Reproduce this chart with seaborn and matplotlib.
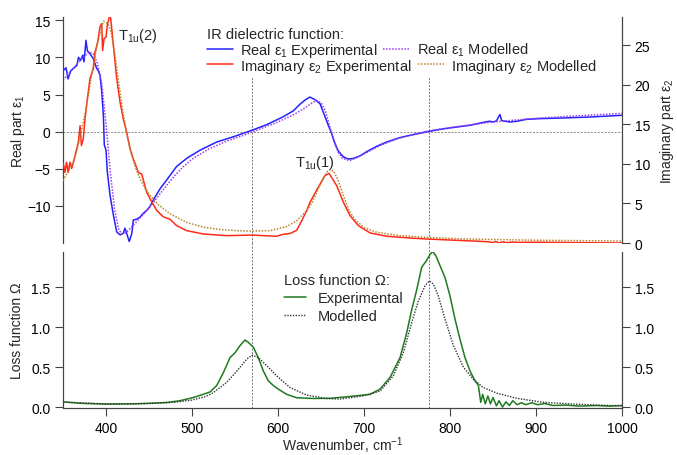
import numpy as np
import pandas as pd
import seaborn as sns
import matplotlib.pyplot as plt

# Real part eps1, experimental (wavenumber, value)
real_exp_wn = [350, 353.5, 355.8, 359, 362, 366, 368, 370.5, 373, 374.4, 376.7, 378.3, 381.4,
               385.3, 389.2, 391, 393, 395, 396.9, 398, 400, 401.5, 404.7, 408.5, 412.4, 416.3,
               420, 422, 424, 427, 430, 431.8, 435.7, 439.5, 443.4, 447.3, 451, 455, 462.8,
               470.6, 482, 493.8, 509.3, 528.7, 548, 570, 586.8, 606, 617.8, 625.6, 632, 637,
               643, 648.8, 652.7, 658.5, 662.4, 666.3, 670, 676, 681.7, 687.6, 695.3, 703,
               714.8, 726.4, 741.9, 757.3, 774, 788.4, 800, 823, 840.7, 846.5, 850, 854, 858,
               860, 864, 869.8, 878, 889, 904.7, 931.7, 962.8, 1000]
real_exp = [8.2, 8.6, 7.1, 8.2, 8.5, 8.9, 10.0, 9.6, 10.3, 9.4, 12.3, 10.9, 10.5,
            9.8, 8.5, 8.2, 7.6, 5.4, 2.2, -1.8, -2.5, -5.4, -8.6, -11.2, -13.5, -13.9,
            -13.7, -13.0, -13.7, -14.8, -13.7, -11.9, -11.8, -11.5, -11.0, -10.6, -10.1, -9.2, -7.7,
            -6.5, -4.7, -3.6, -2.5, -1.4, -0.7, 0.2, 0.94, 2.0, 2.8, 3.7, 4.3, 4.66,
            4.3, 3.76, 2.6, 0.85, -0.27, -1.6, -2.6, -3.4, -3.7, -3.6, -3.27, -2.7,
            -1.97, -1.39, -0.8, -0.4, 0.0, 0.3, 0.5, 0.85, 1.3, 1.4, 1.3, 1.45, 2.3,
            1.5, 1.4, 1.3, 1.4, 1.66, 1.75, 1.84, 1.97, 2.2]

# Real part eps1, modelled
real_mod_wn = [350, 360, 370, 380, 385, 390, 395, 400, 405, 410, 415, 420, 425, 430, 440, 450,
               460, 470, 480, 490, 500, 520, 540, 560, 580, 600, 620, 630, 640, 645, 650, 655,
               660, 665, 670, 675, 683, 690, 700, 720, 740, 760, 780, 800, 850, 900, 950, 1000]
real_mod = [6.9, 8.3, 9.6, 10.7, 10.5, 9.2, 6.5, 1.0, -5.5, -10.5, -13.3, -13.8, -13.4, -12.8,
            -11.6, -10.3, -8.8, -7.3, -5.9, -4.7, -3.7, -2.3, -1.3, -0.5, 0.4, 1.3, 2.4, 3.1,
            3.9, 4.2, 3.9, 2.8, 0.8, -1.3, -2.8, -3.6, -3.9, -3.6, -3.0, -1.8, -0.9, -0.3, 0.2,
            0.55, 1.3, 1.8, 2.15, 2.45]

# Imaginary part eps2, experimental
imag_exp_wn = [350.4, 352.3, 354, 356, 358, 360, 362.6, 365, 367.8, 369.8, 371.4, 373.6, 375.6,
               378.3, 381.4, 385.3, 387.2, 390, 393, 395, 396, 397.7, 400, 401.5, 404, 405.4,
               408.5, 412.4, 416.3, 420, 424, 427.9, 431.8, 437.6, 441.5, 447.3, 453.1, 459,
               466.7, 474.4, 482, 493.8, 513, 540, 570, 598.5, 606, 614, 621.7, 627.5, 633.4,
               637.2, 646.8, 654.6, 659.3, 668.2, 676, 683.7, 693.4, 707, 726.4, 753.5, 774,
               800, 834.9, 845, 850, 853, 857, 861, 866, 872, 880, 900, 950, 1000]
imag_exp = [10.0, 8.9, 10.2, 8.9, 10.2, 9.4, 10.4, 11.5, 12.7, 14.8, 12.3, 13.2, 15.7,
            18.2, 20.8, 22.0, 24.1, 25.2, 27.3, 27.7, 24.3, 25.8, 26.0, 27.5, 28.6, 28.4,
            25.0, 20.8, 17.8, 15.7, 14.0, 11.9, 10.6, 8.9, 8.7, 6.4, 5.2, 4.1,
            3.3, 3.0, 2.2, 1.56, 1.14, 0.93, 1.0, 0.85, 1.1, 1.2, 1.6, 2.8, 4.1,
            5.15, 7.05, 8.5, 8.8, 7.25, 5.15, 3.46, 2.2, 1.27, 0.85, 0.63, 0.5,
            0.38, 0.21, 0.15, 0.05, 0.2, 0.0, 0.15, 0.05, 0.12, 0.08, 0.1, 0.05, 0.0]

# Imaginary part eps2, modelled
imag_mod_wn = [350, 360, 365, 370, 375, 380, 385, 390, 395, 397, 400, 403, 406, 410, 415, 420,
               425, 430, 435, 440, 445, 450, 460, 474.4, 493.8, 513, 532.6, 552, 570, 590.7,
               610, 621.7, 633.4, 640, 650, 657, 661, 665, 670, 676, 683, 690, 700, 715, 740,
               775, 820, 900, 1000]
imag_mod = [7.9, 9.8, 11.2, 13.5, 16.0, 19.0, 22.3, 25.2, 27.3, 28.0, 27.9, 27.5, 26.6, 24.0,
            20.0, 16.3, 13.3, 11.0, 9.3, 8.0, 7.0, 6.2, 4.9, 3.7, 2.6, 2.0, 1.7, 1.56, 1.5,
            1.56, 2.07, 2.8, 4.1, 5.2, 7.6, 9.0, 9.3, 9.0, 7.9, 6.0, 4.0, 2.9, 1.95, 1.35,
            0.95, 0.7, 0.5, 0.35, 0.25]

# Loss function, experimental
loss_exp_wn = [350, 373.6, 400.8, 431.8, 455, 470.6, 486, 501.6, 513, 521, 528.7, 536.4, 544.2,
               550, 555.8, 561.6, 565.5, 571.3, 577, 583, 588.7, 594.5, 600.3, 610, 621.7, 641,
               660.5, 683.7, 707, 718.6, 730.2, 741.9, 749.6, 755.5, 761.3, 767, 773, 776.7,
               779.8, 783.7, 788.4, 794.2, 800, 805.8, 811.6, 817.4, 823.3, 829, 833, 835.7,
               838, 841, 844, 847, 850, 854, 857, 861, 865, 869, 873, 878, 883, 888, 895, 902,
               910, 920, 935, 950, 970, 985, 1000]
loss_exp = [0.066, 0.046, 0.0375, 0.04, 0.05, 0.058, 0.08, 0.12, 0.16, 0.19, 0.27, 0.43, 0.62,
            0.68, 0.77, 0.84, 0.81, 0.75, 0.62, 0.45, 0.33, 0.27, 0.225, 0.16, 0.117, 0.108,
            0.11, 0.133, 0.16, 0.225, 0.37, 0.62, 0.93, 1.22, 1.47, 1.75, 1.84, 1.91,
            1.95, 1.89, 1.77, 1.62, 1.39, 1.1, 0.85, 0.62, 0.45, 0.33, 0.27, 0.06,
            0.16, 0.04, 0.14, 0.04, 0.12, 0.016, 0.08, 0.0, 0.066, 0.02, 0.08, 0.03, 0.055,
            0.03, 0.055, 0.03, 0.045, 0.02, 0.025, 0.0125, 0.02, 0.012, 0.02]

# Loss function, modelled
loss_mod_wn = [350, 400, 450, 480, 500, 515, 524.8, 540.3, 552, 563.6, 570, 577, 586.8, 598.5,
               614, 633.4, 656.6, 672, 699, 718.6, 734, 745.7, 755.5, 763.2, 771, 776, 780.6,
               786.4, 794.2, 803.9, 815.5, 827.1, 838.7, 854.3, 877.5, 908.5, 939.5, 970.6, 1000]
loss_mod = [0.062, 0.04, 0.045, 0.06, 0.088, 0.13, 0.18, 0.31, 0.45, 0.6, 0.65, 0.62, 0.52, 0.39,
            0.245, 0.15, 0.108, 0.1, 0.14, 0.2, 0.39, 0.68, 1.06, 1.33, 1.52, 1.58, 1.54,
            1.39, 1.1, 0.77, 0.5, 0.35, 0.245, 0.175, 0.11, 0.06, 0.04, 0.025, 0.017]

# Modes marked with vertical lines
mode_lines = [570, 775]

sns.set_style("ticks")
plt.rcParams["font.family"] = ["Liberation Sans", "DejaVu Sans"]
plt.rcParams["mathtext.fontset"] = "custom"
plt.rcParams["mathtext.rm"] = "Liberation Sans"
plt.rcParams["mathtext.it"] = "Liberation Sans:italic"
plt.rcParams["font.size"] = 10
spine_col = "#444444"

fig = plt.figure(figsize=(6.77, 4.56), dpi=100)
ax1 = fig.add_axes([0.0931, 0.4649, 0.8257, 0.495])
ax1r = ax1.twinx()
ax2 = fig.add_axes([0.0931, 0.1024, 0.8257, 0.3434])
ax2r = ax2.twinx()

dot = (0, (1, 1))

# top panel: dielectric function
sns.lineplot(x=real_exp_wn, y=real_exp, ax=ax1, color="#2222ff", lw=1.1, zorder=4)
sns.lineplot(x=real_mod_wn, y=real_mod, ax=ax1, color="#9b3cf5", lw=1.1, ls=dot, zorder=5)
sns.lineplot(x=imag_exp_wn, y=imag_exp, ax=ax1r, color="#ff2a1a", lw=1.1, zorder=3)
sns.lineplot(x=imag_mod_wn, y=imag_mod, ax=ax1r, color="#b8862a", lw=1.1, ls=dot, zorder=4)
h_re, h_rm = ax1.lines[0], ax1.lines[1]
h_ie, h_im = ax1r.lines[0], ax1r.lines[1]

ax1.axhline(0, color="#888888", lw=0.7, ls=(0, (2, 1.5)), zorder=1)
ax1.vlines(mode_lines, -15.0, 7.4, color="#777777", lw=0.7, ls=(0, (2, 1.5)), zorder=1)

ax1.set_xlim(350, 1000)
ax1.set_ylim(-15.0, 15.4)
ax1r.set_ylim(0, 28.5)
ax1.set_yticks([-10, -5, 0, 5, 10, 15])
ax1r.set_yticks([0, 5, 10, 15, 20, 25])
ax1.set_xticks([])
ax1.set_ylabel("Real part ε$_1$")
ax1r.set_ylabel("Imaginary part ε$_2$")
ax1.yaxis.set_label_coords(-0.064, 0.5)
ax1r.yaxis.set_label_coords(1.064, 0.5)

ax1.text(414, 13.0, "T$_{\\mathrm{1u}}$(2)", fontsize=10.5, va="center")
ax1.text(620, -4.1, "T$_{\\mathrm{1u}}$(1)", fontsize=10.5, va="center")

# bottom panel: loss function
sns.lineplot(x=loss_exp_wn, y=loss_exp, ax=ax2, color="#1f7a1f", lw=1.1, zorder=4)
sns.lineplot(x=loss_mod_wn, y=loss_mod, ax=ax2, color="#333333", lw=1.0, ls=dot, zorder=5)
h_le, h_lm = ax2.lines[0], ax2.lines[1]
for xv in mode_lines:
    ax2.axvline(xv, ymin=0, ymax=1.06, color="#777777", lw=0.7, ls=(0, (2, 1.5)),
                zorder=1, clip_on=False)

ax2.set_xlim(350, 1000)
ax2.set_ylim(-0.015, 1.945)
ax2r.set_ylim(-0.015, 1.945)
ax2.set_xticks([400, 500, 600, 700, 800, 900, 1000])
ax2.set_yticks([0.0, 0.5, 1.0, 1.5])
ax2r.set_yticks([0.0, 0.5, 1.0, 1.5])
ax2.set_ylabel("Loss function Ω")
ax2.yaxis.set_label_coords(-0.070, 0.5)
ax2.set_xlabel("Wavenumber, cm$^{-1}$", labelpad=0)

for a in [ax1, ax1r, ax2, ax2r]:
    if a.get_legend() is not None:
        a.get_legend().remove()
    a.spines["top"].set_visible(False)
    for s in a.spines.values():
        s.set_color(spine_col)
        s.set_linewidth(0.8)
    a.tick_params(colors=spine_col, labelcolor="black", length=6, width=0.8, labelsize=10, pad=3)
    a.grid(False)
ax1.spines["bottom"].set_visible(False)
ax1r.spines["bottom"].set_visible(False)
ax2.set_xlim(350, 1000)

# legends
leg1 = ax1r.legend([h_re, h_rm], ["Real ε$_1$ Experimental", "Real ε$_1$ Modelled"],
                   title="IR dielectric function:", alignment="left", ncol=2,
                   loc="upper left", bbox_to_anchor=(0.257, 0.958), frameon=False,
                   fontsize=10.5, title_fontsize=10.5, handlelength=1.8, handletextpad=0.5,
                   columnspacing=0.4, borderpad=0, labelspacing=0.0, borderaxespad=0)
ax1r.add_artist(leg1)
leg2 = ax1r.legend([h_ie, h_im], ["Imaginary ε$_2$ Experimental", "Imaginary ε$_2$ Modelled"],
                   ncol=2, loc="upper left", bbox_to_anchor=(0.257, 0.826), frameon=False,
                   fontsize=10.5, handlelength=1.8, handletextpad=0.5,
                   columnspacing=0.4, borderpad=0, borderaxespad=0)

ax2r.legend([h_le, h_lm], ["Experimental", "Modelled"], title="Loss function Ω:",
            alignment="left", loc="upper left", bbox_to_anchor=(0.395, 0.862), frameon=False,
            fontsize=10.5, title_fontsize=10.5, handlelength=1.5, handletextpad=0.8,
            borderpad=0, labelspacing=0.25, borderaxespad=0)

fig.savefig("out.png", dpi=100)
